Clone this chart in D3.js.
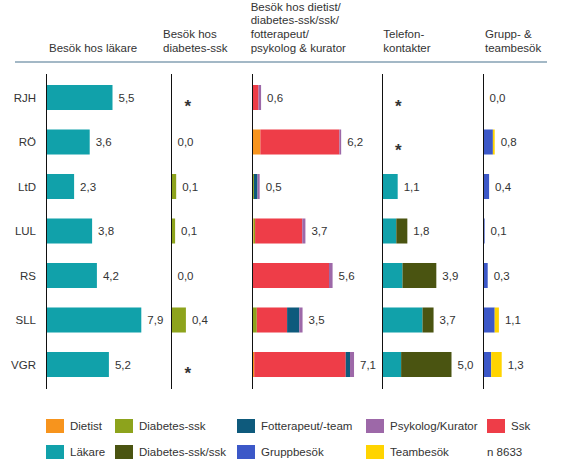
<!DOCTYPE html>
<html><head><meta charset="utf-8">
<script src="https://cdn.jsdelivr.net/npm/d3@7"></script>
<style>
body{margin:0;background:#fff}
svg{display:block}
text{font-family:"Liberation Sans",Arial,sans-serif;fill:#333}
</style>
</head><body>
<svg id="chart" width="577" height="471"></svg>
<script>
// ---- data ----
const regions = ["RJH","RÖ","LtD","LUL","RS","SLL","VGR"];
const lakare = [5.5,3.6,2.3,3.8,4.2,7.9,5.2];
const diabetesSsk = [null,0.0,0.13,0.1,0.0,0.4,null]; // null = *
const dietist3     = [0,0.55,0,0.08,0,0,0.12];
const diabetesSsk3 = [0,0,0.1,0.1,0,0.3,0];
const ssk3         = [0.42,5.53,0,3.3,5.35,2.12,6.4];
const fotterapeut3 = [0,0,0.25,0,0,0.85,0.3];
const psykolog3    = [0.18,0.12,0.15,0.22,0.25,0.23,0.28];
const telLakare      = [null,null,1.1,1.0,1.45,2.9,1.35]; // null = *
const telDiabSskSsk  = [null,null,0,0.8,2.45,0.8,3.65];
const gruppbesok = [0,0.67,0.4,0.08,0.3,0.8,0.55];
const teambesok  = [0,0.13,0,0,0,0.3,0.75];
const headers = [
  ["Besök hos läkare"],
  ["Besök hos","diabetes-ssk"],
  ["Besök hos dietist/","diabetes-ssk/ssk/","fotterapeut/","psykolog & kurator"],
  ["Telefon-","kontakter"],
  ["Grupp- &","teambesök"]
];
const legendRow1 = ["Dietist","Diabetes-ssk","Fotterapeut/-team","Psykolog/Kurator","Ssk"];
const legendRow2 = ["Läkare","Diabetes-ssk/ssk","Gruppbesök","Teambesök"];
const nNote = "n 8633";

const colors = {
  "Dietist":"#f7941d","Diabetes-ssk":"#8da31c","Fotterapeut/-team":"#0e5a7c",
  "Psykolog/Kurator":"#9d68a8","Ssk":"#ee3d48","Läkare":"#11a1aa",
  "Diabetes-ssk/ssk":"#4a5411","Gruppbesök":"#3c58c8","Teambesök":"#ffd400"
};

const svg = d3.select("#chart");
const fmt = v => d3.format(".1f")(v).replace(".",",");

const y = d3.scaleBand().domain(regions).range([75.25,386.75]).paddingInner(0.438).paddingOuter(0.219);

// header
const headerX = [49,163,250.7,383.3,485];
headers.forEach((lines,i)=>{
  const n = lines.length;
  lines.forEach((t,j)=>{
    svg.append("text").attr("x",headerX[i]).attr("y",52-(n-1-j)*13.8)
      .attr("font-size","11.5px").text(t);
  });
});
svg.append("line").attr("x1",15).attr("x2",547).attr("y1",62).attr("y2",62)
  .attr("stroke","#a3b8c6").attr("stroke-width",2);

// row labels
svg.selectAll("text.rl").data(regions).join("text").attr("class","rl")
  .attr("x",36).attr("y",d=>y(d)+y.bandwidth()/2).attr("dy","0.35em")
  .attr("text-anchor","end").attr("font-size","11.5px").text(d=>d);

function panel(x0, domainMax, width, keys, series, labelNulls){
  const x = d3.scaleLinear().domain([0,domainMax]).range([x0,x0+width]);
  const rows = regions.map((r,i)=>{
    const o = {region:r, missing: series[0][i]===null};
    keys.forEach((k,j)=>o[k]=series[j][i]||0);
    return o;
  });
  const stack = d3.stack().keys(keys)(rows);
  const g = svg.append("g");
  g.selectAll("g").data(stack).join("g").attr("fill",d=>colors[d.key])
    .selectAll("rect").data(d=>d.filter(p=>p[1]-p[0]>0)).join("rect")
    .attr("x",d=>x(d[0])).attr("width",d=>x(d[1])-x(d[0]))
    .attr("y",d=>y(d.data.region)).attr("height",y.bandwidth());
  rows.forEach(r=>{
    const cy = y(r.region)+y.bandwidth()/2;
    if(r.missing){
      g.append("text").attr("x",x0+labelNulls).attr("y",cy+14)
        .attr("font-size","17px").attr("font-weight","bold").attr("fill","#222").text("*");
    } else {
      const tot = d3.sum(keys,k=>r[k]);
      g.append("text").attr("x",x(tot)+6).attr("y",cy).attr("dy","0.35em")
        .attr("font-size","11.5px").text(fmt(tot));
    }
  });
  g.append("line").attr("x1",x0).attr("x2",x0).attr("y1",74).attr("y2",389)
    .attr("stroke","#111").attr("stroke-width",1);
}

panel(46.5, 8, 96, ["Läkare"], [lakare], 0);
panel(171.5, 0.5, 18, ["Diabetes-ssk"], [diabetesSsk], 13);
panel(252.5, 8, 114.4, ["Dietist","Diabetes-ssk","Ssk","Fotterapeut/-team","Psykolog/Kurator"],
      [dietist3,diabetesSsk3,ssk3,fotterapeut3,psykolog3], 0);
panel(382.5, 5, 69, ["Läkare","Diabetes-ssk/ssk"], [telLakare,telDiabSskSsk], 12.5);
panel(483.5, 1.5, 21, ["Gruppbesök","Teambesök"], [gruppbesok,teambesok], 0);

// legend
const colX = [46,115,237,366,487];
const rowsY = [419,445];
[legendRow1,legendRow2].forEach((row,ri)=>{
  row.forEach((name,ci)=>{
    svg.append("rect").attr("x",colX[ci]).attr("y",rowsY[ri]).attr("width",18).attr("height",14)
      .attr("fill",colors[name]);
    svg.append("text").attr("x",colX[ci]+24).attr("y",rowsY[ri]+7).attr("dy","0.35em")
      .attr("font-size","11.5px").text(name);
  });
});
svg.append("text").attr("x",colX[4]).attr("y",rowsY[1]+7).attr("dy","0.35em")
  .attr("font-size","11.5px").text(nNote);
</script>
</body></html>
